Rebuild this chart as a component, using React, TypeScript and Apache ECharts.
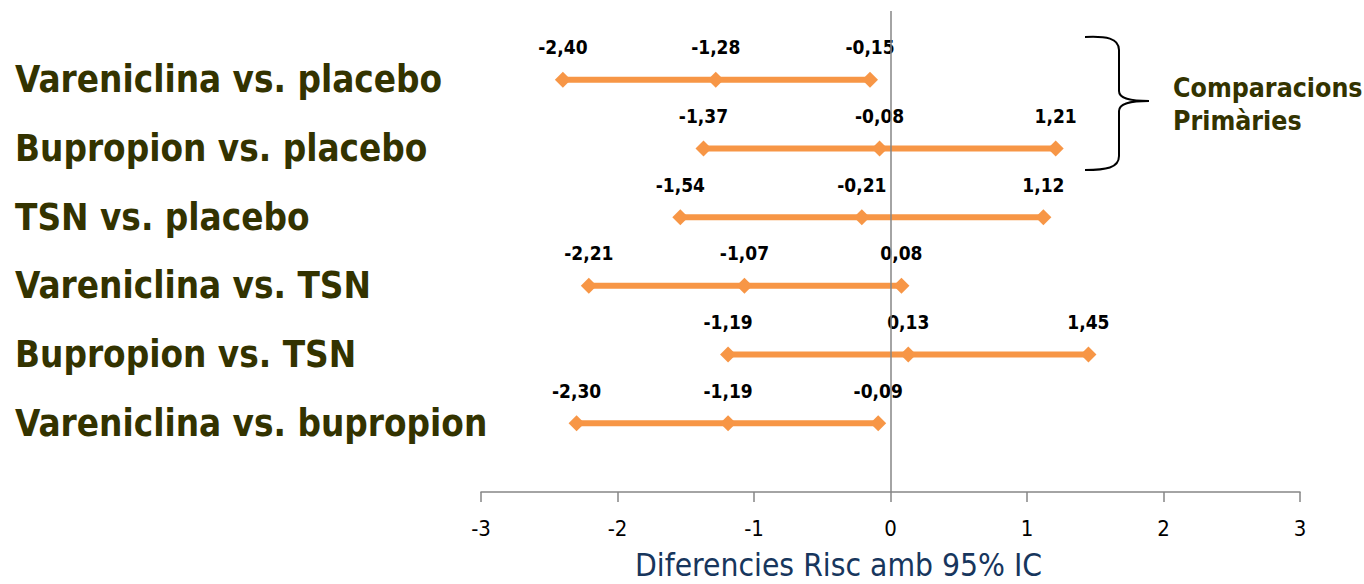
import React, { useEffect, useRef } from "react";
import * as echarts from "echarts";

const comparisons = [
  "Vareniclina vs. placebo",
  "Bupropion vs. placebo",
  "TSN vs. placebo",
  "Vareniclina vs. TSN",
  "Bupropion vs. TSN",
  "Vareniclina vs. bupropion",
];
const lower = [-2.4, -1.37, -1.54, -2.21, -1.19, -2.3];
const estimate = [-1.28, -0.08, -0.21, -1.07, 0.13, -1.19];
const upper = [-0.15, 1.21, 1.12, 0.08, 1.45, -0.09];
const xMin = -3;
const xMax = 3;
const axisTitle = "Diferencies Risc amb 95% IC";
const bracketText = ["Comparacions", "Primàries"];

const LABEL_FONT = "'DejaVu Sans Condensed', 'DejaVu Sans', Verdana, sans-serif";
const ORANGE = "#F79646";
const OLIVE = "#333300";

const bracePath =
  "M1085 37 C1106 36 1119 38 1119 50 L1119 91 C1119 98 1128 101 1149 101 C1128 101 1119 104 1119 111 L1119 156 C1119 168 1106 170 1085 170";

let registered = false;
function registerBrace() {
  if (registered) return;
  registered = true;
  const Brace = (echarts.graphic as any).extendPath(bracePath, {});
  echarts.graphic.registerShape("brace", Brace);
}

const fmt = (v: number) => v.toFixed(2).replace(".", ",");

export default function App() {
  const ref = useRef<HTMLDivElement>(null);
  useEffect(() => {
    document.body.style.margin = "0";
    registerBrace();
    const chart = echarts.init(ref.current!, undefined, { renderer: "svg" });
    const n = comparisons.length;
    const series: any[] = comparisons.map((name, i) => ({
      type: "line",
      name,
      data: [lower[i], estimate[i], upper[i]].map((v) => [v, n - i]),
      symbol: "diamond",
      symbolSize: 16,
      lineStyle: { color: ORANGE, width: 6 },
      itemStyle: { color: ORANGE },
      label: {
        show: true,
        position: "top",
        distance: 15,
        formatter: (p: any) => fmt(p.value[0]),
        fontFamily: LABEL_FONT,
        fontWeight: "bold",
        fontSize: 19,
        color: "#000",
      },
      emphasis: { disabled: true },
      z: 3,
    }));
    series.push({
      type: "line",
      data: [],
      markLine: {
        silent: true,
        symbol: "none",
        label: { show: false },
        lineStyle: { color: "#868686", width: 1.5, type: "solid" },
        data: [{ xAxis: 0 }],
      },
      z: 1,
    });
    chart.setOption({
      animation: false,
      grid: { left: 481, right: 64, top: 11, height: 481 },
      xAxis: {
        type: "value",
        min: xMin,
        max: xMax,
        interval: 1,
        axisLine: { lineStyle: { color: "#868686", width: 1.5 } },
        axisTick: { show: true, length: 10, lineStyle: { color: "#868686", width: 1.5 } },
        splitLine: { show: false },
        axisLabel: {
          margin: 25,
          color: "#000",
          fontSize: 22,
          fontFamily: LABEL_FONT,
        },
      },
      yAxis: {
        type: "value",
        min: 0,
        max: n + 1,
        interval: 1,
        axisLine: { show: false },
        axisTick: { show: false },
        splitLine: { show: false },
        axisLabel: {
          align: "left",
          margin: 466,
          color: OLIVE,
          fontSize: 36.5,
          fontWeight: "bold",
          fontFamily: LABEL_FONT,
          formatter: (v: number) => {
            const idx = n - v;
            return idx >= 0 && idx < n ? comparisons[idx] : "";
          },
        },
      },
      graphic: [
        {
          type: "brace",
          x: 0,
          y: 0,
          style: { stroke: "#000", fill: "none", lineWidth: 2 },
        },
        {
          type: "text",
          left: 1173,
          top: 71,
          style: {
            text: bracketText.join("\n"),
            fill: OLIVE,
            font: `bold 26.5px ${LABEL_FONT}`,
            lineHeight: 33,
          },
        },
        {
          type: "text",
          left: 635,
          top: 549,
          style: {
            text: axisTitle,
            fill: "#17365D",
            font: `31.5px ${LABEL_FONT}`,
          },
        },
      ],
      series,
    });
    return () => chart.dispose();
  }, []);
  return <div ref={ref} style={{ width: 1364, height: 584 }} />;
}
